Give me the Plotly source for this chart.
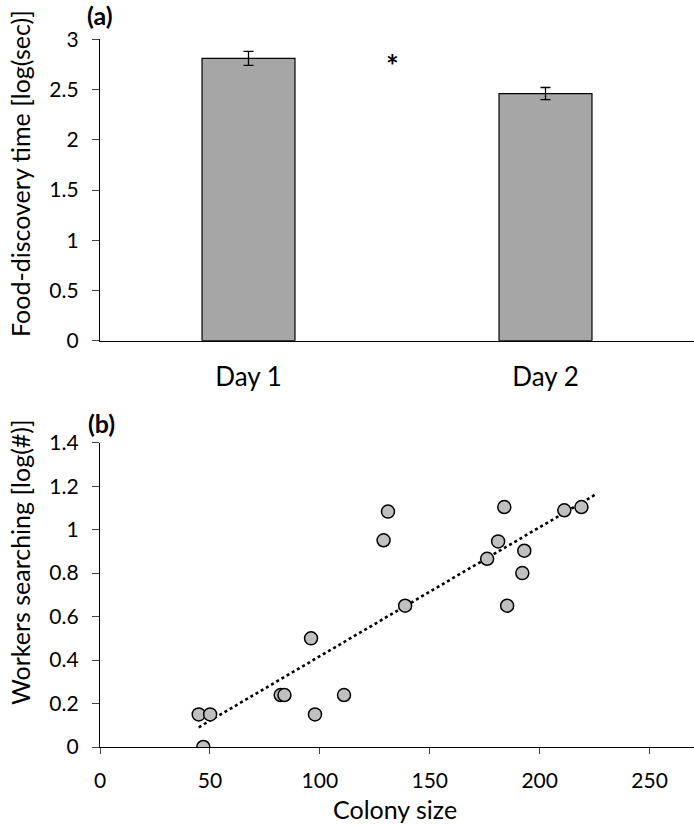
import numpy as np
import plotly.graph_objects as go

# Panel (a) data
days = ["Day 1", "Day 2"]
discovery_time = [2.81, 2.46]
discovery_err = [0.07, 0.06]

# Panel (b) data
colony_size = [44.9, 50.1, 47.0, 82.2, 83.9, 97.8, 96.0, 111.0, 129.0, 131.0,
               138.8, 176.1, 181.1, 183.9, 185.2, 192.1, 193.0, 211.2, 219.0]
workers_searching = [0.15, 0.15, 0.0, 0.239, 0.239, 0.15, 0.50, 0.239, 0.951, 1.083,
                     0.65, 0.866, 0.946, 1.104, 0.65, 0.80, 0.903, 1.089, 1.104]
trend_forward = 6

FONT = "Lato"
W, H = 694, 825
L = 100

def py(pix):
    return 1 - pix / H

def xp(pix):
    return (pix - L) / (W - L)

fig = go.Figure()

fig.add_trace(go.Bar(
    x=days, y=discovery_time,
    marker=dict(color="#a6a6a6", line=dict(color="#000000", width=1.2)),
    error_y=dict(type="data", array=discovery_err, color="#000000", thickness=1.3, width=5),
    width=0.313, xaxis="x", yaxis="y", showlegend=False,
))

xs = np.array(colony_size)
ys = np.array(workers_searching)
m, b = np.polyfit(xs, ys, 1)
tx = np.array([xs.min(), xs.max() + trend_forward])
fig.add_trace(go.Scatter(
    x=tx, y=m * tx + b, mode="lines",
    line=dict(color="#000000", width=2.6, dash="dot"),
    xaxis="x2", yaxis="y2", showlegend=False,
))
fig.add_trace(go.Scatter(
    x=colony_size, y=workers_searching, mode="markers",
    marker=dict(size=13, color="#c0c0c0", line=dict(color="#000000", width=1.5)),
    xaxis="x2", yaxis="y2", showlegend=False,
))

axis_common = dict(showline=True, linecolor="#000000", linewidth=1.3, showgrid=False,
                   zeroline=False)
num_font = dict(family=FONT, size=21, color="#000000")

fig.update_layout(
    width=W, height=H,
    margin=dict(l=L, r=0, t=0, b=0, autoexpand=False),
    plot_bgcolor="white", paper_bgcolor="white",
    font=dict(family=FONT, color="#000000"),
    xaxis=dict(domain=[0, 1], anchor="y", range=[-0.5, 1.5], ticks="",
               ticklabelstandoff=13, tickfont=dict(family=FONT, size=26, color="#000000"),
               **axis_common),
    yaxis=dict(domain=[py(340.7), py(39.3)], anchor="x", range=[0, 3],
               tickvals=[0, 0.5, 1, 1.5, 2, 2.5, 3], ticktext=["0", "0.5", "1", "1.5", "2", "2.5", "3"],
               ticks="outside", ticklen=7, tickwidth=1.3, ticklabelstandoff=9,
               tickfont=num_font, **axis_common),
    xaxis2=dict(domain=[0, 1], anchor="y2", range=[0, 270.2],
                tickvals=[0, 50, 100, 150, 200, 250],
                ticks="outside", ticklen=6, tickwidth=1.3, ticklabelstandoff=9,
                tickfont=num_font, **axis_common),
    yaxis2=dict(domain=[py(747), py(442.7)], anchor="x2", range=[0, 1.4],
                tickvals=[0, 0.2, 0.4, 0.6, 0.8, 1.0, 1.2, 1.4],
                ticktext=["0", "0.2", "0.4", "0.6", "0.8", "1", "1.2", "1.4"],
                ticks="outside", ticklen=7, tickwidth=1.3, ticklabelstandoff=9,
                tickfont=num_font, **axis_common),
)

def note(text, x, y, size, angle=0):
    fig.add_annotation(text=text, x=xp(x), y=py(y), xref="paper", yref="paper",
                       xanchor="center", yanchor="middle", textangle=angle,
                       showarrow=False, font=dict(family=FONT, size=size, color="#000000"))

note("<b>(a)</b>", 100, 15, 25)
note("<b>(b)</b>", 101, 423, 25)
note("Food-discovery time [log(sec)]", 20, 174, 25, -90)
note("Workers searching [log(#)]", 20, 562, 25, -90)
note("Colony size", 395, 809, 25)
fig.add_annotation(text="<b>*</b>", x=0.485, y=2.74, xref="x", yref="y",
                   xanchor="center", yanchor="middle",
                   showarrow=False, font=dict(family=FONT, size=30, color="#000000"))

fig.write_html("out.html", config={"displayModeBar": False},
               post_script="document.body.style.margin='0px';document.body.style.overflow='hidden';")
